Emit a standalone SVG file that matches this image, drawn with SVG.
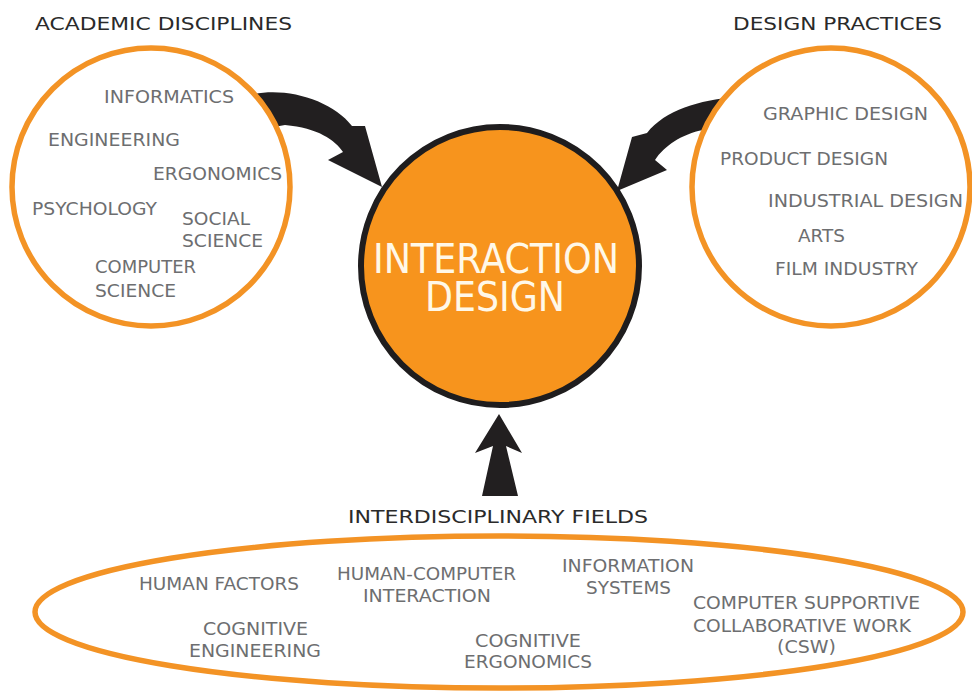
<svg xmlns="http://www.w3.org/2000/svg" width="972" height="691" viewBox="0 0 972 691">
  <style>
    .ring { fill: #ffffff; stroke: #f39325; stroke-width: 5.5; }
    .hub { fill: #f7941d; stroke: #1f1d1e; stroke-width: 6; }
    .arrow { fill: #221f20; }
    .item { font-family: "DejaVu Sans", Verdana, sans-serif; font-size: 18.5px; fill: #6d6e70; }
    .head { font-family: "DejaVu Sans", Verdana, sans-serif; font-size: 18.5px; fill: #2a2a2a; }
    .hubtext { font-family: "DejaVu Sans", Verdana, sans-serif; font-size: 40px; fill: #fff8e8; text-anchor: middle; }
  </style>
  <rect width="972" height="691" fill="#ffffff"/>

  <!-- connectors: thick curved and straight arrows pointing at the hub -->
  <g id="connectors">
    <path class="arrow" d="M 250,95 C 285,86 332,100 352,126 L 365,126 L 382,187 L 328,160 L 343,152 C 335,140 318,128 285,125 L 268,128 Z"/>
    <path class="arrow" d="M 735,97 C 700,100 665,110 647,133 L 632,137 L 617,191 L 667,170 L 655,160 C 664,146 682,134 703,130 L 715,129 Z"/>
    <path class="arrow" d="M 499,414 L 522,453 L 506,446 L 518,496 L 482,496 L 493,446 L 475,453 Z"/>
  </g>

  <!-- academic disciplines -->
  <g id="academic-disciplines">
    <text class="head" x="35" y="30" textLength="257" lengthAdjust="spacingAndGlyphs">ACADEMIC DISCIPLINES</text>
    <circle class="ring" cx="151" cy="187" r="139"/>
    <text class="item" x="104" y="103" textLength="130" lengthAdjust="spacingAndGlyphs">INFORMATICS</text>
    <text class="item" x="48" y="146" textLength="132" lengthAdjust="spacingAndGlyphs">ENGINEERING</text>
    <text class="item" x="153" y="180" textLength="129" lengthAdjust="spacingAndGlyphs">ERGONOMICS</text>
    <text class="item" x="32" y="215" textLength="125" lengthAdjust="spacingAndGlyphs">PSYCHOLOGY</text>
    <text class="item" x="182" y="225" textLength="68" lengthAdjust="spacingAndGlyphs">SOCIAL</text>
    <text class="item" x="182" y="247" textLength="81" lengthAdjust="spacingAndGlyphs">SCIENCE</text>
    <text class="item" x="95" y="273" textLength="101" lengthAdjust="spacingAndGlyphs">COMPUTER</text>
    <text class="item" x="95" y="297" textLength="81" lengthAdjust="spacingAndGlyphs">SCIENCE</text>
  </g>

  <!-- design practices -->
  <g id="design-practices">
    <text class="head" x="733" y="30" textLength="209" lengthAdjust="spacingAndGlyphs">DESIGN PRACTICES</text>
    <circle class="ring" cx="831" cy="187" r="139"/>
    <text class="item" x="763" y="120" textLength="165" lengthAdjust="spacingAndGlyphs">GRAPHIC DESIGN</text>
    <text class="item" x="720" y="165" textLength="168" lengthAdjust="spacingAndGlyphs">PRODUCT DESIGN</text>
    <text class="item" x="768" y="207" textLength="195" lengthAdjust="spacingAndGlyphs">INDUSTRIAL DESIGN</text>
    <text class="item" x="798" y="242" textLength="47" lengthAdjust="spacingAndGlyphs">ARTS</text>
    <text class="item" x="775" y="275" textLength="143" lengthAdjust="spacingAndGlyphs">FILM INDUSTRY</text>
  </g>

  <!-- hub -->
  <g id="interaction-design">
    <circle class="hub" cx="500" cy="266" r="139"/>
    <text class="hubtext" x="496" y="273" textLength="246" lengthAdjust="spacingAndGlyphs">INTERACTION</text>
    <text class="hubtext" x="495" y="311" textLength="140" lengthAdjust="spacingAndGlyphs">DESIGN</text>
  </g>

  <!-- interdisciplinary fields -->
  <g id="interdisciplinary-fields">
    <text class="head" x="348" y="523" textLength="300" lengthAdjust="spacingAndGlyphs">INTERDISCIPLINARY FIELDS</text>
    <ellipse class="ring" cx="499" cy="612" rx="464" ry="76"/>
    <text class="item" x="139" y="590" textLength="160" lengthAdjust="spacingAndGlyphs">HUMAN FACTORS</text>
    <text class="item" x="337" y="580" textLength="179" lengthAdjust="spacingAndGlyphs">HUMAN-COMPUTER</text>
    <text class="item" x="363" y="602" textLength="128" lengthAdjust="spacingAndGlyphs">INTERACTION</text>
    <text class="item" x="562" y="572" textLength="132" lengthAdjust="spacingAndGlyphs">INFORMATION</text>
    <text class="item" x="586" y="594" textLength="85" lengthAdjust="spacingAndGlyphs">SYSTEMS</text>
    <text class="item" x="693" y="609" textLength="227" lengthAdjust="spacingAndGlyphs">COMPUTER SUPPORTIVE</text>
    <text class="item" x="693" y="632" textLength="218" lengthAdjust="spacingAndGlyphs">COLLABORATIVE WORK</text>
    <text class="item" x="777" y="653" textLength="59" lengthAdjust="spacingAndGlyphs">(CSW)</text>
    <text class="item" x="203" y="635" textLength="105" lengthAdjust="spacingAndGlyphs">COGNITIVE</text>
    <text class="item" x="189" y="657" textLength="132" lengthAdjust="spacingAndGlyphs">ENGINEERING</text>
    <text class="item" x="475" y="647" textLength="106" lengthAdjust="spacingAndGlyphs">COGNITIVE</text>
    <text class="item" x="464" y="668" textLength="128" lengthAdjust="spacingAndGlyphs">ERGONOMICS</text>
  </g>
</svg>
